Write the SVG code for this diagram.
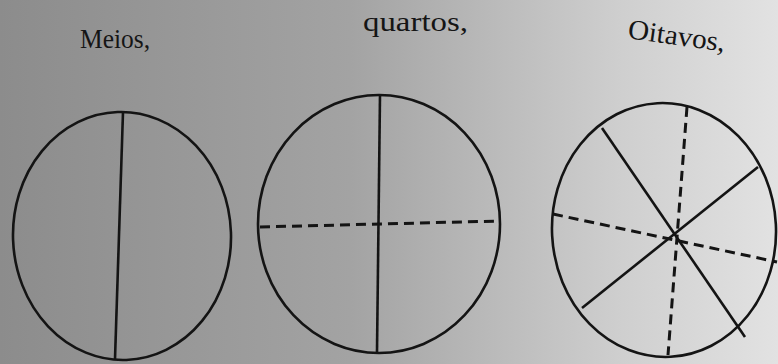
<svg xmlns="http://www.w3.org/2000/svg" width="778" height="364" viewBox="0 0 778 364">
<defs>
<linearGradient id="bg" x1="0" y1="0" x2="1" y2="0">
<stop offset="0" stop-color="#8c8c8c"/>
<stop offset="0.45" stop-color="#a3a3a3"/>
<stop offset="0.8" stop-color="#cfcfcf"/>
<stop offset="1" stop-color="#e2e2e2"/>
</linearGradient>
</defs>
<style>
.ring{fill:none;stroke:#141414;stroke-width:2.6}
.solid{stroke:#141414;stroke-width:2.6;fill:none}
.dash{stroke:#141414;stroke-width:3;fill:none;stroke-dasharray:10 6}
.lbl{font-family:"Liberation Serif","DejaVu Serif",serif;font-size:28px;fill:#151515}
</style>
<rect width="778" height="364" fill="url(#bg)"/>
<g id="meios">
<text class="lbl" x="80" y="48" textLength="70" lengthAdjust="spacingAndGlyphs">Meios,</text>
<ellipse class="ring" cx="122" cy="236" rx="109" ry="124" transform="rotate(-2 122 236)"/>
<line class="solid" x1="123" y1="112" x2="115" y2="359"/>
</g>
<g id="quartos">
<text class="lbl" x="363" y="31" textLength="105" lengthAdjust="spacingAndGlyphs">quartos,</text>
<ellipse class="ring" cx="379" cy="224" rx="121" ry="129"/>
<line class="solid" x1="380" y1="95" x2="377" y2="352"/>
<line class="dash" x1="260" y1="227" x2="500" y2="221"/>
</g>
<g id="oitavos">
<text class="lbl" x="627" y="38" textLength="98" lengthAdjust="spacingAndGlyphs" transform="rotate(8 627 38)">Oitavos,</text>
<ellipse class="ring" cx="664" cy="230" rx="112" ry="127" transform="rotate(-3 664 230)"/>
<line class="solid" x1="602" y1="128" x2="745" y2="337"/>
<line class="solid" x1="758" y1="167" x2="582" y2="308"/>
<line class="dash" x1="687" y1="107" x2="668" y2="355"/>
<line class="dash" x1="553" y1="214" x2="777" y2="262"/>
</g>
</svg>
